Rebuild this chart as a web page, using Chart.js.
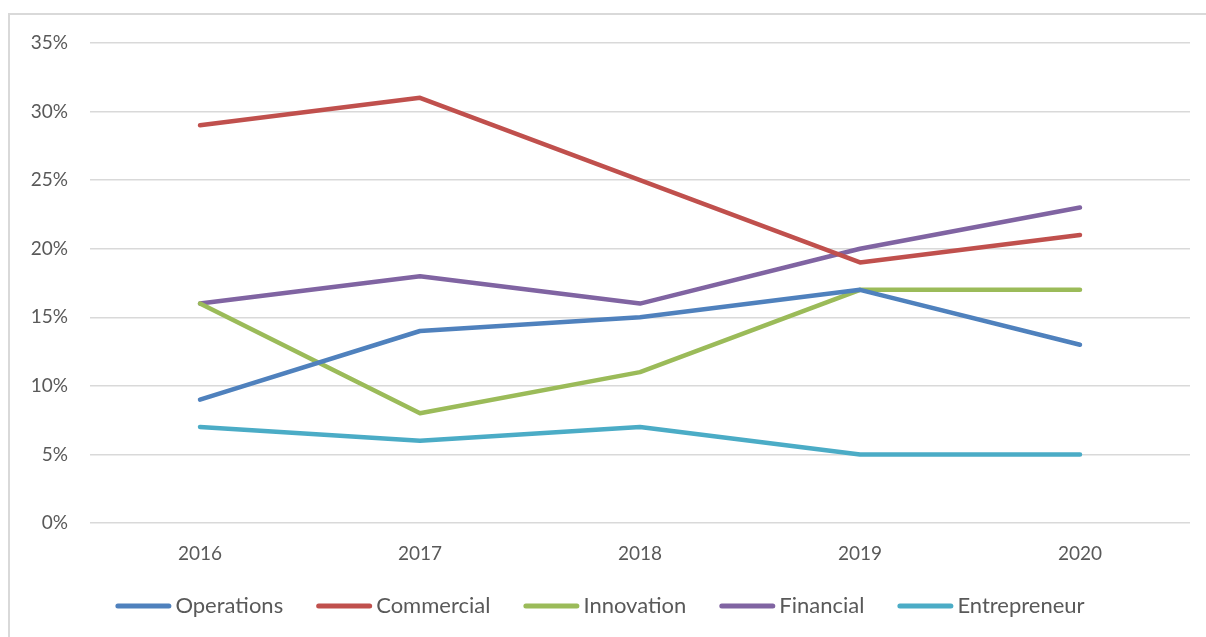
<!DOCTYPE html>
<html>
<head>
<meta charset="utf-8">
<script src="https://cdn.jsdelivr.net/npm/chart.js@4/dist/chart.umd.min.js"></script>
<style>
  html, body { margin: 0; padding: 0; background: #ffffff; }
  #frame {
    position: absolute; left: 8px; top: 13px; width: 1210px; height: 640px;
    border-left: 2px solid #d9d9d9; border-top: 2px solid #d9d9d9; box-sizing: border-box;
  }
  #wrap { position: absolute; left: 0; top: 0; width: 1206px; height: 637px; }
</style>
</head>
<body>
<div id="frame"></div>
<div id="wrap"><canvas id="chart" width="1206" height="637"></canvas></div>
<script>
// Years on the category axis
const years = ['2016', '2017', '2018', '2019', '2020'];

// Share of each profile per year, in percent
const operations   = [9, 14, 15, 17, 13];
const commercial   = [29, 31, 25, 19, 21];
const innovation   = [16, 8, 11, 17, 17];
const financial    = [16, 18, 16, 20, 23];
const entrepreneur = [7, 6, 7, 5, 5];

const seriesNames  = ['Operations', 'Commercial', 'Innovation', 'Financial', 'Entrepreneur'];
const seriesValues = [operations, commercial, innovation, financial, entrepreneur];
const seriesColors = ['#4f81bd', '#c0504d', '#9bbb59', '#8064a2', '#4bacc6'];

const yMax = 35;
const yStep = 5;

const FONT = 'Lato, "Open Sans", sans-serif';
const TEXT = '#595959';

const datasets = seriesNames.map((name, i) => ({
  label: name,
  data: seriesValues[i],
  borderColor: seriesColors[i],
  backgroundColor: seriesColors[i],
  borderWidth: 4.5,
  borderCapStyle: 'round',
  borderJoinStyle: 'round',
  pointRadius: 0,
  tension: 0,
  fill: false
}));

// Bottom legend: a short rounded line sample followed closely by the series name
const lineLegend = {
  id: 'lineLegend',
  afterDraw(chart, args, opts) {
    const ctx = chart.ctx;
    ctx.save();
    ctx.font = `${opts.fontSize}px ${FONT}`;
    ctx.textBaseline = 'middle';
    ctx.textAlign = 'left';
    const items = chart.data.datasets.map(ds => ({
      text: ds.label,
      color: ds.borderColor,
      textWidth: ctx.measureText(ds.label).width
    }));
    const itemWidths = items.map(it => opts.sample + opts.gap + it.textWidth);
    const total = itemWidths.reduce((a, b) => a + b, 0) + opts.spacing * (items.length - 1);
    let x = opts.centerX - total / 2;
    const y = opts.y;
    items.forEach((it, i) => {
      ctx.strokeStyle = it.color;
      ctx.lineWidth = opts.lineWidth;
      ctx.lineCap = 'round';
      ctx.beginPath();
      ctx.moveTo(x + opts.lineWidth / 2, y);
      ctx.lineTo(x + opts.sample - opts.lineWidth / 2, y);
      ctx.stroke();
      ctx.fillStyle = TEXT;
      ctx.fillText(it.text, x + opts.sample + opts.gap, y);
      x += itemWidths[i] + opts.spacing;
    });
    ctx.restore();
  }
};

new Chart(document.getElementById('chart'), {
  type: 'line',
  data: { labels: years, datasets },
  plugins: [lineLegend],
  options: {
    responsive: false,
    animation: false,
    devicePixelRatio: 1,
    layout: { padding: { top: 43, right: 16, bottom: 68, left: 0 } },
    plugins: {
      legend: { display: false },
      tooltip: { enabled: false },
      lineLegend: {
        fontSize: 22,
        sample: 56,
        gap: 4,
        spacing: 33,
        lineWidth: 5,
        centerX: 600,
        y: 606
      }
    },
    scales: {
      x: {
        offset: true,
        grid: { display: false, drawTicks: false },
        border: { display: false },
        ticks: { color: TEXT, font: { family: FONT, size: 19 }, padding: 19 },
        afterFit: (s) => { s.height = 46; }
      },
      y: {
        min: 0,
        max: yMax,
        grid: { color: '#d9d9d9', lineWidth: 1.5, drawTicks: false },
        border: { display: false },
        ticks: {
          stepSize: yStep,
          color: TEXT,
          font: { family: FONT, size: 19 },
          padding: 22,
          callback: (v) => v + '%'
        },
        afterFit: (s) => { s.width = 90; }
      }
    }
  }
});
</script>
</body>
</html>
